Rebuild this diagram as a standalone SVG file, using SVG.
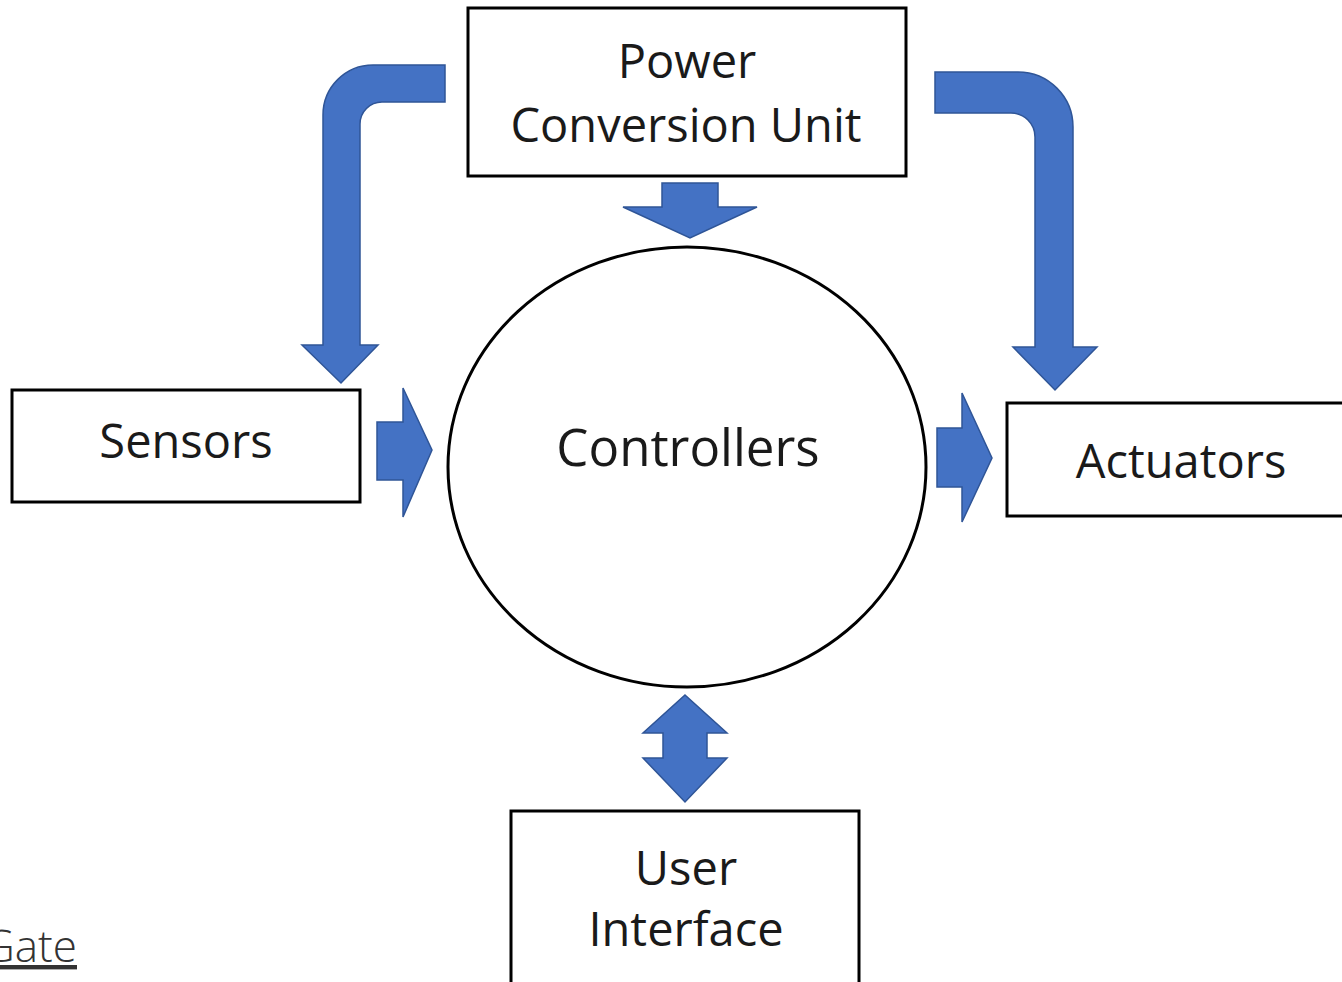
<svg xmlns="http://www.w3.org/2000/svg" width="1342" height="982" viewBox="0 0 1342 982">
  <style>
    .box { fill: #ffffff; stroke: #000000; stroke-width: 3; }
    .arrow { fill: #4472C4; stroke: #2F5597; stroke-width: 1.5; stroke-linejoin: miter; }
    .label { font-family: "Open Sans", "Noto Sans", sans-serif; font-size: 47px; fill: #1a1a1a; text-anchor: middle; }
    .big { font-size: 51px; }
    .link { font-family: "Open Sans", "Noto Sans", sans-serif; font-weight: 300; font-size: 44px; fill: #333333; text-anchor: end; text-decoration: underline; }
  </style>
  <rect width="1342" height="982" fill="#ffffff"/>

  <g id="connectors">
    <!-- power unit to sensors (bent) -->
    <path class="arrow" d="M445,65 L373,65 A50,50 0 0 0 323,115 L323,345 L302,345 L341,383 L378,345 L360,345 L360,124 A22,22 0 0 1 382,102 L445,102 Z"/>
    <!-- power unit to actuators (bent) -->
    <path class="arrow" d="M935,72 L1018,72 A55,55 0 0 1 1073,127 L1073,347 L1097,347 L1055,390 L1013,347 L1035,347 L1035,137 A24,24 0 0 0 1011,113 L935,113 Z"/>
    <!-- power unit to controllers -->
    <path class="arrow" d="M662,183 L718,183 L718,207 L757,207 L690,238 L623,207 L662,207 Z"/>
    <!-- sensors to controllers -->
    <path class="arrow" d="M377,422 L403,422 L403,388 L432,450 L403,517 L403,480 L377,480 Z"/>
    <!-- controllers to actuators -->
    <path class="arrow" d="M937,428 L962,428 L962,393 L992,458 L962,522 L962,487 L937,487 Z"/>
    <!-- controllers and user interface (two-way) -->
    <path class="arrow" d="M685,695 L727,733 L707,733 L707,758 L727,758 L685,802 L643,758 L663,758 L663,733 L643,733 Z"/>
  </g>

  <g id="power">
    <rect class="box" x="468" y="8" width="438" height="168"/>
    <text class="label" x="687" y="78">Power</text>
    <text class="label" x="686" y="142">Conversion Unit</text>
  </g>

  <g id="controllers">
    <ellipse cx="687" cy="467" rx="239" ry="220" fill="#ffffff" stroke="#000000" stroke-width="3"/>
    <text class="label big" x="688" y="466">Controllers</text>
  </g>

  <g id="sensors">
    <rect class="box" x="12" y="390" width="348" height="112"/>
    <text class="label" x="186" y="458">Sensors</text>
  </g>

  <g id="actuators">
    <rect class="box" x="1007" y="403" width="345" height="113"/>
    <text class="label" x="1181" y="478">Actuators</text>
  </g>

  <g id="user-interface">
    <rect class="box" x="511" y="811" width="348" height="180"/>
    <text class="label" x="686" y="885">User</text>
    <text class="label" x="686" y="946">Interface</text>
  </g>

  <text class="link" x="77" y="962">Gate</text>
</svg>
